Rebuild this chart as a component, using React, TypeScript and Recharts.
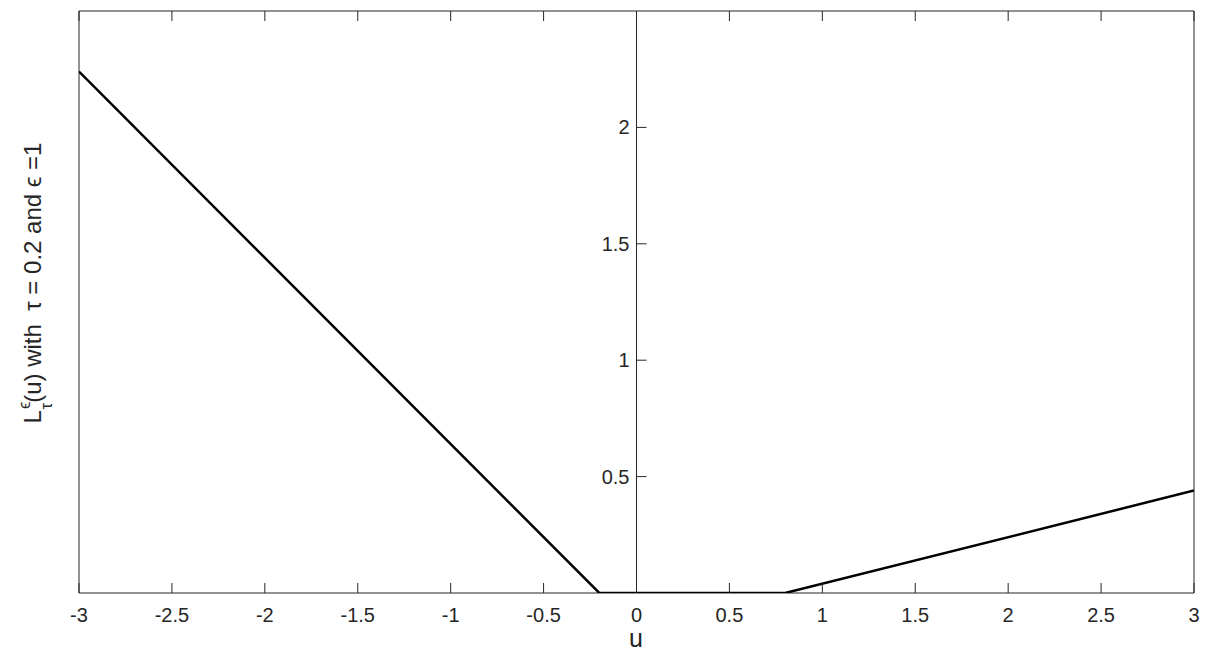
import React from 'react';
import { LineChart, Line, XAxis, YAxis, ReferenceLine, ReferenceDot } from 'recharts';

const uValues = [-3, -0.2, 0.8, 3];
const lossValues = [2.24, 0, 0, 0.44];
const xTicks = [-3, -2.5, -2, -1.5, -1, -0.5, 0, 0.5, 1, 1.5, 2, 2.5, 3];
const yTicks = [0.5, 1, 1.5, 2];
const xDomain = [-3, 3];
const yDomain = [0, 2.5];
const xLabel = 'u';
const yLabelRest = '(u) with  \u03c4 = 0.2 and \u03f5 =1';

const data = uValues.map((u, i) => ({ u, loss: lossValues[i] }));

const AX = '#262626';
const FONT = '"Liberation Sans", Arial, Helvetica, sans-serif';
const TICK = 10;

const makeBottomTick = (v: number) => (p: any) => {
  const { cx, cy } = p;
  return (
    <g>
      <line x1={cx} x2={cx} y1={cy} y2={cy - TICK} stroke={AX} strokeWidth={1} />
      <text x={cx} y={cy + 29} textAnchor="middle" fontSize={20} fill={AX} fontFamily={FONT}>
        {String(v)}
      </text>
    </g>
  );
};

const TopTick = (p: any) => {
  const { cx, cy } = p;
  return <line x1={cx} x2={cx} y1={cy} y2={cy + TICK} stroke={AX} strokeWidth={1} />;
};

const makeYTick = (v: number) => (p: any) => {
  const { cx, cy } = p;
  return (
    <g>
      <line x1={cx} x2={cx + TICK} y1={cy} y2={cy} stroke={AX} strokeWidth={1} />
      <text x={cx - 7} y={cy + 7} textAnchor="end" fontSize={20} fill={AX} fontFamily={FONT}>
        {String(v)}
      </text>
    </g>
  );
};

const AxisLabels = () => {
  const cx = 41;
  const cy = 283;
  return (
    <svg
      width={1226}
      height={652}
      style={{ position: 'absolute', left: 0, top: 0, pointerEvents: 'none' }}
    >
      <text x={636} y={647} textAnchor="middle" fontSize={25} fill={AX} fontFamily={FONT}>
        {xLabel}
      </text>
      <text
        x={cx}
        y={cy}
        transform={`rotate(-90 ${cx} ${cy})`}
        textAnchor="middle"
        fontSize={24}
        fill={AX}
        fontFamily={FONT}
        style={{ whiteSpace: 'pre' }}
      >
        <tspan>L</tspan>
        <tspan dx={1} dy={-11} fontSize={17}>{'\u03f5'}</tspan>
        <tspan dx={-8} dy={22} fontSize={17}>{'\u03c4'}</tspan>
        <tspan dy={-11}>{yLabelRest}</tspan>
      </text>
    </svg>
  );
};

export default function App() {
  return (
    <div style={{ position: 'absolute', left: 0, top: 0, width: 1226, height: 652, background: '#fff' }}>
      <LineChart width={1226} height={652} data={data} margin={{ top: 11, right: 32, bottom: 59, left: 79 }}>
        <XAxis dataKey="u" type="number" domain={xDomain} ticks={xTicks} hide allowDataOverflow />
        <YAxis type="number" domain={yDomain} hide allowDataOverflow />
        <ReferenceLine x={xDomain[0]} stroke={AX} strokeWidth={1} />
        <ReferenceLine x={xDomain[1]} stroke={AX} strokeWidth={1} />
        <ReferenceLine y={yDomain[0]} stroke={AX} strokeWidth={1} />
        <ReferenceLine y={yDomain[1]} stroke={AX} strokeWidth={1} />
        <ReferenceLine x={0} stroke={AX} strokeWidth={1} />
        {xTicks.map((v) => (
          <ReferenceDot key={'b' + v} x={v} y={yDomain[0]} r={0} shape={makeBottomTick(v)} />
        ))}
        {xTicks.map((v) => (
          <ReferenceDot key={'t' + v} x={v} y={yDomain[1]} r={0} shape={TopTick} />
        ))}
        {yTicks.map((v) => (
          <ReferenceDot key={'y' + v} x={0} y={v} r={0} shape={makeYTick(v)} />
        ))}
        <Line
          type="linear"
          dataKey="loss"
          stroke="#000"
          strokeWidth={2.5}
          dot={false}
          activeDot={false}
          isAnimationActive={false}
        />
      </LineChart>
      <AxisLabels />
    </div>
  );
}
